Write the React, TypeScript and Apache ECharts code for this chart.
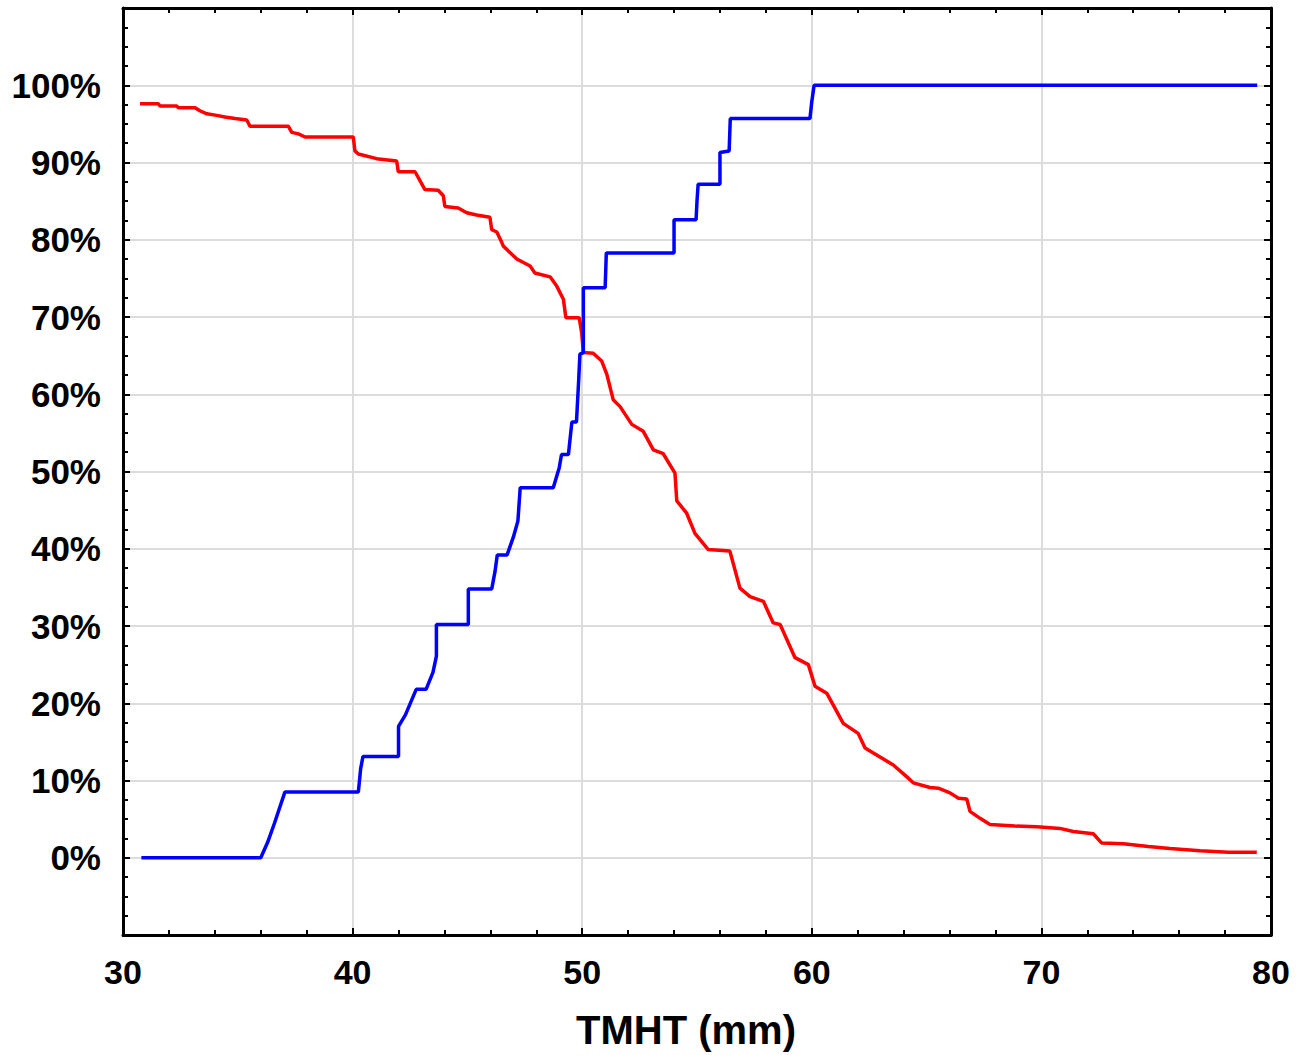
import React, { useEffect, useRef } from "react";
import * as echarts from "echarts";

const blueX = [30.8, 36.0, 36.3, 36.6, 37.05, 40.25, 40.35, 40.45, 42.0, 42.0, 42.3, 42.77, 43.2, 43.5, 43.65, 43.65, 45.04, 45.04, 46.06, 46.2, 46.3, 46.73, 47.0, 47.2, 47.3, 48.74, 49.0, 49.1, 49.4, 49.55, 49.75, 49.85, 49.9, 50.05, 50.05, 51.0, 51.05, 54.0, 54.0, 54.96, 55.0, 55.05, 56.0, 56.0, 56.4, 56.45, 59.92, 60.0, 60.1, 79.4];
const blueY = [0, 0, 2, 4.5, 8.5, 8.5, 11.5, 13.1, 13.1, 17.0, 18.5, 21.8, 21.8, 24, 26.1, 30.2, 30.2, 34.8, 34.8, 37, 39.2, 39.2, 41.5, 43.6, 47.9, 47.9, 50.5, 52.2, 52.2, 56.4, 56.4, 62, 65.2, 65.4, 73.8, 73.8, 78.3, 78.3, 82.6, 82.6, 85, 87.2, 87.2, 91.3, 91.5, 95.7, 95.7, 97.9, 100, 100];

const redX = [30.74, 31.54, 31.61, 32.34, 32.41, 33.14, 33.35, 33.65, 34.08, 34.44, 34.88, 35.39, 35.53, 37.2, 37.35, 37.64, 37.93, 40.03, 40.1, 40.25, 41.05, 41.92, 41.99, 42.72, 43.15, 43.73, 43.95, 44.02, 44.6, 44.97, 45.4, 45.98, 46.06, 46.28, 46.49, 46.56, 47.15, 47.73, 47.94, 48.6, 48.89, 49.18, 49.29, 49.87, 49.98, 50.05, 50.48, 50.85, 51.07, 51.35, 51.65, 52.16, 52.66, 53.1, 53.53, 54.04, 54.12, 54.55, 54.91, 55.49, 56.43, 56.87, 57.31, 57.89, 58.32, 58.62, 59.27, 59.85, 60.14, 60.65, 61.37, 62.02, 62.32, 63.55, 64.13, 64.42, 65.15, 65.51, 66.02, 66.39, 66.75, 66.89, 67.33, 67.76, 68.85, 69.8, 70.81, 71.39, 72.26, 72.63, 73.57, 74.66, 75.6, 76.91, 78.14, 79.38];
const redY = [97.6, 97.6, 97.3, 97.3, 97.1, 97.1, 96.7, 96.3, 96.1, 95.9, 95.7, 95.5, 94.7, 94.7, 93.9, 93.7, 93.3, 93.3, 91.5, 91.1, 90.5, 90.2, 88.8, 88.8, 86.5, 86.4, 85.7, 84.3, 84.1, 83.5, 83.2, 82.9, 81.3, 81.0, 79.7, 79.2, 77.5, 76.6, 75.7, 75.2, 74.0, 72.3, 69.9, 69.9, 67.9, 65.4, 65.3, 64.3, 62.6, 59.3, 58.4, 56.1, 55.2, 52.8, 52.3, 49.8, 46.2, 44.6, 42.0, 39.9, 39.7, 34.9, 33.8, 33.2, 30.4, 30.2, 25.9, 25.0, 22.2, 21.3, 17.4, 16.1, 14.2, 12.0, 10.5, 9.7, 9.1, 9.0, 8.4, 7.7, 7.6, 6.0, 5.1, 4.3, 4.1, 4.0, 3.8, 3.4, 3.1, 1.9, 1.8, 1.45, 1.2, 0.9, 0.7, 0.7];

const xTitle = "TMHT (mm)";
const FONT = "'Liberation Sans', Arial, sans-serif";

export default function App() {
  const ref = useRef<HTMLDivElement>(null);
  useEffect(() => {
    const chart = echarts.init(ref.current!, null, { renderer: "svg" });
    const axisLine = { show: true, onZero: false, lineStyle: { color: "#000", width: 3 } };
    const tick = { show: true, inside: true, length: 7, lineStyle: { color: "#000", width: 2 } };
    const minor = (n: number) => ({ show: true, splitNumber: n, length: 5, lineStyle: { color: "#000", width: 2 } });
    chart.setOption({
      animation: false,
      backgroundColor: "#fff",
      grid: { left: 123, right: 35, top: 8, bottom: 113 },
      xAxis: [
        {
          type: "value", min: 30, max: 80, interval: 10, position: "bottom",
          axisLine, axisTick: tick, minorTick: minor(5),
          splitLine: { show: true, lineStyle: { color: "#dcdcdc", width: 2 } },
          axisLabel: { color: "#000", fontSize: 34, fontWeight: "bold", fontFamily: FONT, margin: 20 },
          name: xTitle, nameLocation: "middle", nameGap: 75,
          nameTextStyle: { color: "#000", fontSize: 40, fontWeight: "bold", fontFamily: FONT, padding: [0, 22, 0, 0] },
        },
        {
          type: "value", min: 30, max: 80, interval: 10, position: "top",
          axisLine, axisTick: tick, minorTick: minor(5),
          splitLine: { show: false }, axisLabel: { show: false },
        },
      ],
      yAxis: [
        {
          type: "value", min: -10, max: 110, interval: 10, position: "left",
          axisLine, axisTick: tick, minorTick: minor(4),
          splitLine: { show: true, lineStyle: { color: "#dcdcdc", width: 2 } },
          axisLabel: {
            color: "#000", fontSize: 35, fontWeight: "bold", fontFamily: FONT, margin: 22,
            formatter: (v: number) => (v < 0 || v > 100 ? "" : v + "%"),
          },
        },
        {
          type: "value", min: -10, max: 110, interval: 10, position: "right",
          axisLine, axisTick: tick, minorTick: minor(4),
          splitLine: { show: false }, axisLabel: { show: false },
        },
      ],
      series: [
        {
          type: "line", showSymbol: false, symbol: "none",
          data: redX.map((x, i) => [x, redY[i]]),
          lineStyle: { color: "#ff0000", width: 3.5 },
        },
        {
          type: "line", showSymbol: false, symbol: "none",
          data: blueX.map((x, i) => [x, blueY[i]]),
          lineStyle: { color: "#0000ff", width: 3.5 },
        },
      ],
    });
    return () => chart.dispose();
  }, []);
  return <div ref={ref} style={{ position: "fixed", left: 0, top: 0, width: 1306, height: 1055 }} />;
}
